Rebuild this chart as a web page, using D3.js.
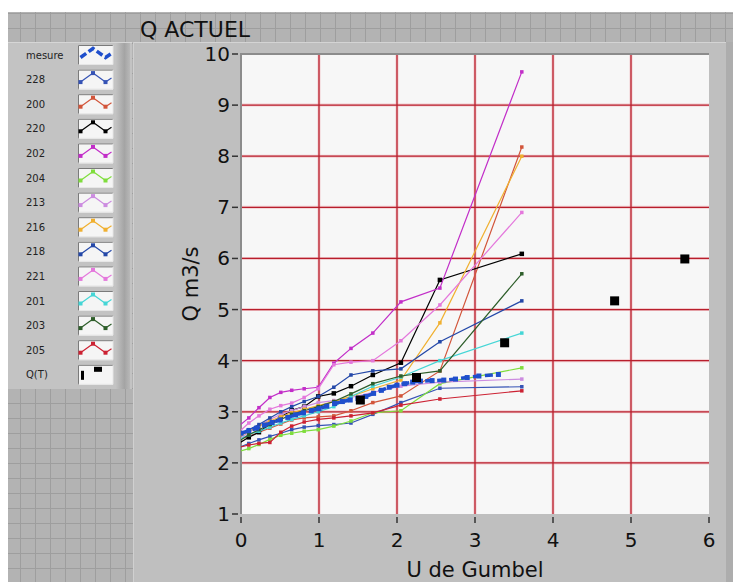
<!DOCTYPE html>
<html><head><meta charset="utf-8">
<script src="https://cdn.jsdelivr.net/npm/d3@7"></script>
<style>html,body{margin:0;padding:0;background:#fff;} svg{display:block;}</style>
</head><body>
<svg id="c" width="733" height="582"></svg>
<script>
// ---------- data ----------
const uPos = [-0.03, 0.10, 0.23, 0.37, 0.51, 0.65, 0.81, 0.99, 1.19, 1.41, 1.69, 2.05, 2.55, 3.6];
const q228 = [2.30, 2.38, 2.45, 2.52, 2.58, 2.65, 2.70, 2.73, 2.75, 2.78, 2.95, 3.18, 3.46, 3.49];
const q200 = [2.45, 2.52, 2.60, 2.68, 2.76, 2.84, 2.88, 2.90, 2.92, 3.02, 3.18, 3.31, 3.80, 8.18];
const q220 = [2.38, 2.50, 2.60, 2.76, 2.90, 3.03, 3.10, 3.30, 3.36, 3.50, 3.72, 3.96, 5.58, 6.09];
const q202 = [2.72, 2.88, 3.08, 3.28, 3.38, 3.42, 3.45, 3.48, 3.95, 4.24, 4.54, 5.15, 5.42, 9.65];
const q204 = [2.22, 2.28, 2.36, 2.46, 2.54, 2.58, 2.62, 2.65, 2.72, 2.82, 2.98, 3.02, 3.55, 3.86];
const q213 = [2.45, 2.60, 2.72, 2.85, 2.95, 3.02, 3.10, 3.18, 3.22, 3.28, 3.38, 3.50, 3.58, 3.64];
const q216 = [2.50, 2.62, 2.72, 2.82, 2.90, 2.98, 3.05, 3.12, 3.20, 3.30, 3.45, 3.62, 4.74, 8.00];
const q218 = [2.55, 2.65, 2.75, 2.88, 3.00, 3.10, 3.20, 3.30, 3.48, 3.72, 3.80, 3.84, 4.37, 5.17];
const q221 = [2.60, 2.78, 2.92, 3.05, 3.12, 3.17, 3.28, 3.45, 3.92, 3.97, 4.00, 4.39, 5.09, 6.90];
const q201 = [2.45, 2.55, 2.62, 2.70, 2.78, 2.85, 2.92, 3.00, 3.10, 3.30, 3.50, 3.68, 4.00, 4.54];
const q203 = [2.42, 2.55, 2.65, 2.75, 2.85, 2.95, 3.02, 3.10, 3.20, 3.35, 3.55, 3.70, 3.80, 5.70];
const q205 = [2.30, 2.35, 2.38, 2.40, 2.60, 2.72, 2.80, 2.85, 2.88, 2.92, 2.98, 3.13, 3.25, 3.41];
const mesureU = [0.0,0.1,0.2,0.3,0.4,0.5,0.6,0.7,0.8,0.9,1.0,1.1,1.2,1.3,1.4,1.5,1.6,1.7,1.8,1.9,2.0,2.1,2.2,2.3,2.45,2.6,2.75,2.9,3.05,3.3];
const mesureQ = [2.58,2.63,2.68,2.74,2.79,2.84,2.89,2.94,2.98,3.02,3.06,3.11,3.16,3.20,3.23,3.26,3.30,3.36,3.42,3.48,3.52,3.55,3.58,3.60,3.61,3.62,3.64,3.67,3.70,3.73];
const qtU = [1.53, 2.25, 3.38, 4.79, 5.69];
const qtQ = [3.23, 3.67, 4.35, 5.17, 5.99];
const xTicks = [0,1,2,3,4,5,6];
const yTicks = [1,2,3,4,5,6,7,8,9,10];
const legendNames = ["mesure","228","200","220","202","204","213","216","218","221","201","203","205","Q(T)"];

const series = [
  {name:"228", q:q228, color:"#3553B5"},
  {name:"200", q:q200, color:"#D2553A"},
  {name:"220", q:q220, color:"#000000"},
  {name:"202", q:q202, color:"#C22EC8"},
  {name:"204", q:q204, color:"#7FDD3C"},
  {name:"213", q:q213, color:"#CC8CE0"},
  {name:"216", q:q216, color:"#F0B030"},
  {name:"218", q:q218, color:"#2448A8"},
  {name:"221", q:q221, color:"#E478DC"},
  {name:"201", q:q201, color:"#45D6D6"},
  {name:"203", q:q203, color:"#2E5E2A"},
  {name:"205", q:q205, color:"#CC2233"}
];
const mesureColor = "#1F4FCC";

// ---------- setup ----------
const svg = d3.select("#c");
const defs = svg.append("defs");
const pat = defs.append("pattern").attr("id","gridpat").attr("patternUnits","userSpaceOnUse")
  .attr("width",15).attr("height",15).attr("x",5).attr("y",13);
pat.append("rect").attr("width",15).attr("height",15).attr("fill","#B3B3B3");
pat.append("path").attr("d","M0,0.5H15M0.5,0V15").attr("stroke","#9E9E9E").attr("stroke-width",1);

const g1 = defs.append("linearGradient").attr("id","shadeR").attr("x1","0").attr("x2","1");
g1.append("stop").attr("offset","0").attr("stop-color","#C2C2C2");
g1.append("stop").attr("offset","0.6").attr("stop-color","#A4A4A4");
g1.append("stop").attr("offset","1").attr("stop-color","#B8B8B8");

svg.append("rect").attr("x",8).attr("y",12).attr("width",725).attr("height",570).attr("fill","url(#gridpat)");

svg.append("text").attr("x",140).attr("y",37).attr("font-family","DejaVu Sans")
  .attr("font-size",22).attr("fill","#111").text("Q ACTUEL");

// legend panel
const lp = {x:8, y:42, w:124, h:347};
svg.append("rect").attr("x",lp.x).attr("y",lp.y).attr("width",lp.w).attr("height",lp.h).attr("fill","#C3C3C3");
svg.append("rect").attr("x",116).attr("y",lp.y).attr("width",14).attr("height",lp.h).attr("fill","url(#shadeR)");
svg.append("line").attr("x1",lp.x).attr("x2",lp.x+lp.w).attr("y1",lp.y+0.5).attr("y2",lp.y+0.5).attr("stroke","#D6D6D6");

const legG = svg.append("g");
const rowY = d => 55 + d*24.6;
const zig = "M2.5,12.5 L15,3.5 L27.5,12.5 L33.5,8.5";
legendNames.forEach((nm, i) => {
  const cy = rowY(i);
  legG.append("text").attr("x",26).attr("y",cy+3.5).attr("font-family","DejaVu Sans")
    .attr("font-size",10).attr("fill","#222").text(nm);
  const bx = 78, by = cy - 10;
  const b = legG.append("g").attr("transform",`translate(${bx},${by})`);
  b.append("rect").attr("width",35).attr("height",20).attr("fill","#F5F5F5");
  b.append("path").attr("d","M0.5,20V0.5H35").attr("stroke","#7A7A7A").attr("fill","none");
  b.append("path").attr("d","M35,0.5V19.5H0.5").attr("stroke","#E6E6E6").attr("fill","none");
  if (nm === "mesure") {
    b.append("path").attr("d",zig).attr("stroke",mesureColor).attr("stroke-width",3.5)
      .attr("fill","none").attr("stroke-dasharray","7,3");
  } else if (nm === "Q(T)") {
    b.append("rect").attr("x",3).attr("y",6).attr("width",3).attr("height",9).attr("fill","#000");
    b.append("rect").attr("x",16).attr("y",2).attr("width",8).attr("height",5).attr("fill","#000");
  } else {
    const s = series.find(d => d.name === nm);
    b.append("path").attr("d",zig).attr("stroke",s.color).attr("stroke-width",1.2).attr("fill","none");
    [[2.5,12.5],[15,3.5],[27.5,12.5]].forEach(p => {
      b.append("rect").attr("x",p[0]-2).attr("y",p[1]-2).attr("width",4).attr("height",4).attr("fill",s.color);
    });
  }
});

// main panel
svg.append("rect").attr("x",133).attr("y",42).attr("width",600).attr("height",540).attr("fill","#BFBFBF");
svg.append("line").attr("x1",133).attr("x2",733).attr("y1",42.5).attr("y2",42.5).attr("stroke","#D4D4D4");
svg.append("line").attr("x1",133.5).attr("x2",133.5).attr("y1",42).attr("y2",582).attr("stroke","#D0D0D0");
svg.append("rect").attr("x",726).attr("y",42).attr("width",7).attr("height",540).attr("fill","#ADADAD");

const x = d3.scaleLinear().domain([0,6]).range([241,709]);
const y = d3.scaleLinear().domain([1,10]).range([514,54]);

svg.append("rect").attr("x",241).attr("y",54).attr("width",468).attr("height",460).attr("fill","#F7F7F7");
defs.append("clipPath").attr("id","plotclip").append("rect").attr("x",241).attr("y",54).attr("width",468).attr("height",460);

const gridG = svg.append("g");
const gx = xTicks.filter(d => d>0 && d<6), gy = yTicks.filter(d => d>1 && d<10);
[["#EFB0B6",3,0.6],["#B81E2C",1.3,1]].forEach(([c,w,o]) => {
  gridG.selectAll(null).data(gx).enter().append("line")
    .attr("x1",d=>x(d)).attr("x2",d=>x(d)).attr("y1",54).attr("y2",514)
    .attr("stroke",c).attr("stroke-width",w).attr("opacity",o);
  gridG.selectAll(null).data(gy).enter().append("line")
    .attr("y1",d=>y(d)).attr("y2",d=>y(d)).attr("x1",241).attr("x2",709)
    .attr("stroke",c).attr("stroke-width",w).attr("opacity",o);
});
svg.append("path").attr("d","M241,514V54H709").attr("stroke","#8C8C8C").attr("stroke-width",2).attr("fill","none");

const dataG = svg.append("g").attr("clip-path","url(#plotclip)");
const line = d3.line().x(d=>x(d[0])).y(d=>y(d[1]));
series.forEach(s => {
  const pts = uPos.map((u,i)=>[u, s.q[i]]);
  dataG.append("path").datum(pts).attr("d",line).attr("stroke",s.color).attr("stroke-width",1.2).attr("fill","none");
  const sz = s.name === "220" ? 4.5 : 3.5;
  dataG.selectAll(null).data(pts).enter().append("rect")
    .attr("x",d=>x(d[0])-sz/2).attr("y",d=>y(d[1])-sz/2).attr("width",sz).attr("height",sz).attr("fill",s.color);
});
const mpts = mesureU.map((u,i)=>[u, mesureQ[i]]);
dataG.append("path").datum(mpts).attr("d",line).attr("stroke",mesureColor).attr("stroke-width",3.5)
  .attr("fill","none").attr("stroke-dasharray","8,4");
dataG.selectAll(null).data(mpts).enter().append("rect")
  .attr("x",d=>x(d[0])-2.5).attr("y",d=>y(d[1])-2.5).attr("width",5).attr("height",5).attr("fill",mesureColor);
const qpts = qtU.map((u,i)=>[u, qtQ[i]]);
dataG.selectAll(null).data(qpts).enter().append("rect")
  .attr("x",d=>x(d[0])-4.5).attr("y",d=>y(d[1])-4.5).attr("width",9).attr("height",9).attr("fill","#000");

const axG = svg.append("g").attr("font-family","DejaVu Sans").attr("fill","#111");
axG.selectAll(null).data(yTicks).enter().append("line")
  .attr("x1",232).attr("x2",238).attr("y1",d=>y(d)).attr("y2",d=>y(d)).attr("stroke","#333").attr("stroke-width",1.5);
axG.selectAll(null).data(yTicks).enter().append("text")
  .attr("x",230).attr("y",d=>y(d)+7).attr("text-anchor","end").attr("font-size",20).text(d=>d);
axG.selectAll(null).data(xTicks).enter().append("line")
  .attr("x1",d=>x(d)).attr("x2",d=>x(d)).attr("y1",517).attr("y2",523).attr("stroke","#333").attr("stroke-width",1.5);
axG.selectAll(null).data(xTicks).enter().append("text")
  .attr("x",d=>x(d)).attr("y",547).attr("text-anchor","middle").attr("font-size",20).text(d=>d);
axG.append("text").attr("x",475).attr("y",577).attr("text-anchor","middle").attr("font-size",21).text("U de Gumbel");
axG.append("text").attr("transform","translate(198,284) rotate(-90)").attr("text-anchor","middle")
  .attr("font-size",21).text("Q m3/s");
</script>
</body></html>
